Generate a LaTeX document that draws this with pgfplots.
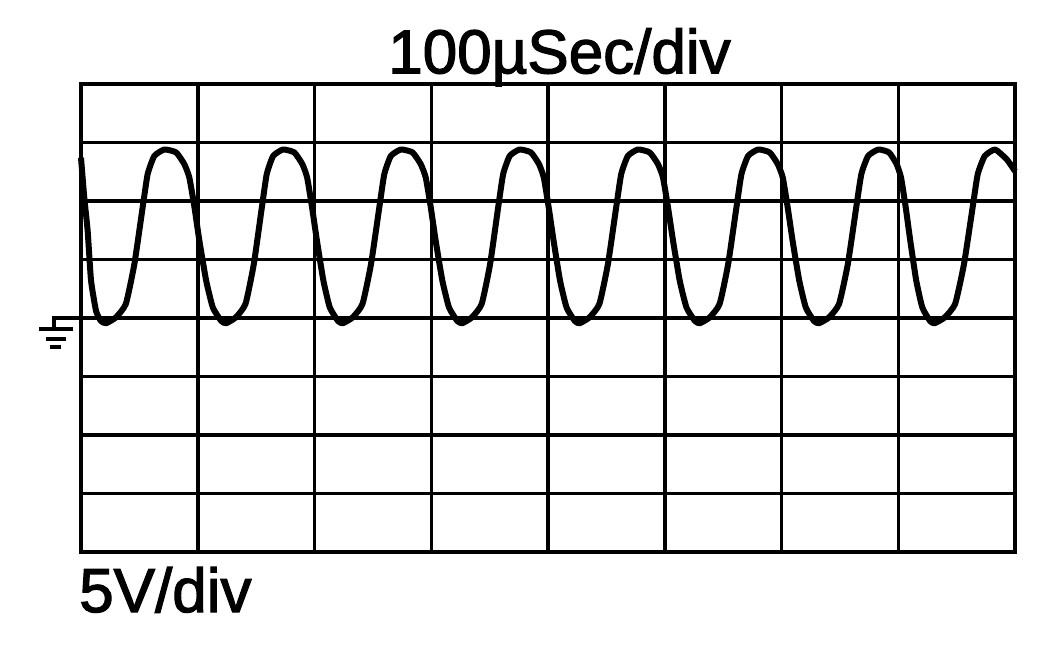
\documentclass[border=0pt]{standalone}
\usepackage{pgfplots}
\pgfplotsset{compat=1.18}
\usepackage{fontspec}
\setmainfont{Liberation Sans}
\newfontfamily\thick{Liberation Sans}[FakeBold=2]
\begin{document}
\begin{tikzpicture}
\begin{axis}[
  scale only axis,
  width=934bp, height=468bp,
  xmin=0, xmax=8, ymin=0, ymax=8,
  xtick={0,1,...,8}, ytick={0,1,...,8},
  xticklabels={}, yticklabels={},
  major tick length=0pt,
  grid=major,
  grid style={black, line width=3.5bp},
  axis line style={black, line width=3.8bp},
  clip=false,
]
\addplot[black, line width=6bp, line join=round, smooth, tension=0.3] coordinates {
(0,6.74) (0.028,6.06) (0.057,5.49) (0.086,4.64) (0.129,4.12) (0.17,3.95) (0.214,3.91)
(0.299,4.01) (0.384,4.24) (0.457,4.92) (0.528,5.89) (0.571,6.46) (0.628,6.77) (0.714,6.88)
(0.815,6.83) (0.885,6.63) (0.928,6.40) (0.972,5.89) (1.014,5.32) (1.072,4.64) (1.129,4.18) (1.201,3.95) (1.243,3.91)
(1.326,4.01) (1.409,4.24) (1.480,4.92) (1.549,5.89) (1.591,6.46) (1.646,6.77) (1.73,6.88)
(1.827,6.83) (1.896,6.63) (1.937,6.40) (1.979,5.89) (2.021,5.32) (2.076,4.64) (2.131,4.18) (2.201,3.95) (2.242,3.91)
(2.327,4.01) (2.411,4.24) (2.484,4.92) (2.555,5.89) (2.598,6.46) (2.654,6.77) (2.74,6.88)
(2.840,6.83) (2.910,6.63) (2.953,6.40) (2.996,5.89) (3.038,5.32) (3.095,4.64) (3.152,4.18) (3.223,3.95) (3.265,3.91)
(3.348,4.01) (3.432,4.24) (3.504,4.92) (3.573,5.89) (3.616,6.46) (3.672,6.77) (3.756,6.88)
(3.854,6.83) (3.923,6.63) (3.964,6.40) (4.006,5.89) (4.048,5.32) (4.103,4.64) (4.159,4.18) (4.229,3.95) (4.27,3.91)
(4.355,4.01) (4.44,4.24) (4.513,4.92) (4.584,5.89) (4.627,6.46) (4.684,6.77) (4.77,6.88)
(4.871,6.83) (4.942,6.63) (4.985,6.40) (5.028,5.89) (5.071,5.32) (5.128,4.64) (5.186,4.18) (5.258,3.95) (5.30,3.91)
(5.385,4.01) (5.47,4.24) (5.543,4.92) (5.614,5.89) (5.657,6.46) (5.714,6.77) (5.80,6.88)
(5.899,6.83) (5.968,6.63) (6.011,6.40) (6.053,5.89) (6.095,5.32) (6.152,4.64) (6.208,4.18) (6.278,3.95) (6.32,3.91)
(6.407,4.01) (6.493,4.24) (6.568,4.92) (6.640,5.89) (6.684,6.46) (6.742,6.77) (6.83,6.88)
(6.921,6.83) (6.986,6.63) (7.024,6.40) (7.064,5.89) (7.103,5.32) (7.154,4.64) (7.206,4.18) (7.272,3.95) (7.31,3.91)
(7.398,4.01) (7.487,4.24) (7.563,4.92) (7.637,5.89) (7.681,6.46) (7.741,6.77) (7.83,6.88)
(7.93,6.71) (8.0,6.51)
};
% ground symbol
\draw[black, line width=3.5bp, line cap=rect] (axis cs:0,4) -- (axis cs:-0.231,4) -- (axis cs:-0.231,3.83);
\draw[black, line width=3.8bp] (axis cs:-0.357,3.812) -- (axis cs:-0.066,3.812);
\draw[black, line width=3.3bp] (axis cs:-0.302,3.641) -- (axis cs:-0.132,3.641);
\draw[black, line width=3.3bp] (axis cs:-0.266,3.504) -- (axis cs:-0.174,3.504);
% texts
\node[anchor=base west, inner sep=0pt, font=\thick\fontsize{62bp}{66bp}\selectfont] at (axis cs:2.63,8.183) {100µSec/div};
\node[anchor=base west, inner sep=0pt, font=\thick\fontsize{62bp}{66bp}\selectfont] at (axis cs:-0.017,-1.026) {5V/div};
\end{axis}
\path[use as bounding box] (current axis.south west) ++(-81bp,-98bp) rectangle ++(1052bp,650bp);
\end{tikzpicture}
\end{document}
